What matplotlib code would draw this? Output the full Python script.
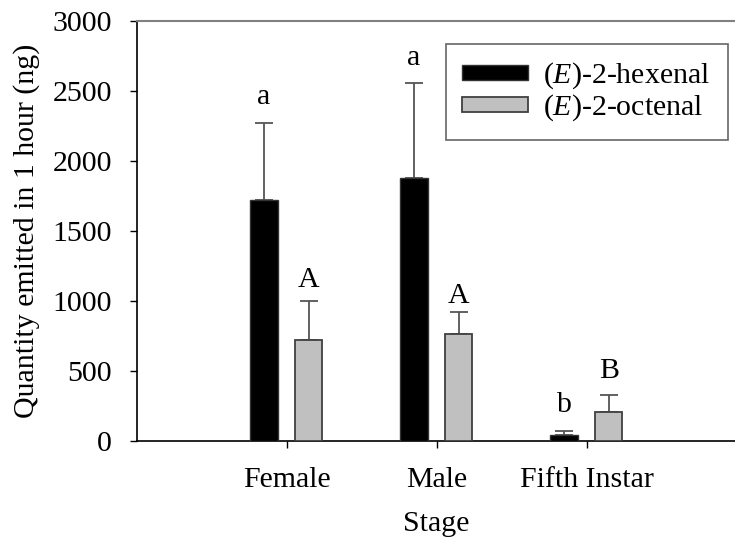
import numpy as np
import matplotlib
matplotlib.use("Agg")
import matplotlib.pyplot as plt

plt.rcParams['font.family'] = ['Liberation Serif', 'DejaVu Serif']
plt.rcParams['mathtext.fontset'] = 'custom'
plt.rcParams['mathtext.rm'] = 'Liberation Serif'
plt.rcParams['mathtext.it'] = 'Liberation Serif:italic'

categories = ["Female", "Male", "Fifth Instar"]
hexenal = [1725, 1880, 45]
hexenal_err = [550, 675, 30]
octenal = [722, 764, 207]
octenal_err = [278, 160, 124]
hexenal_letters = ["a", "a", "b"]
octenal_letters = ["A", "A", "B"]
hexenal_letter_y = [2407, 2686, 207]
octenal_letter_y = [1100, 986, 450]
series_names = ["($\\mathit{E}$)-2-hexenal", "($\\mathit{E}$)-2-octenal"]
yticks = [0, 500, 1000, 1500, 2000, 2500, 3000]

fig = plt.figure(figsize=(7.35, 5.48), dpi=100)
ax = fig.add_axes([137/735, 1-441/548, 1-137/735, (441-21)/548])

x = np.arange(len(categories))
w = 0.187
off_h = -0.153
off_o = 0.145
fs = 21.5

ax.bar(x + off_h, hexenal, width=w, color='black', edgecolor='#333333', linewidth=1.0,
       label=series_names[0], zorder=3)
ax.bar(x + off_o, octenal, width=w*0.97, color='#c0c0c0', edgecolor='#404040', linewidth=1.3,
       label=series_names[1], zorder=3)
ax.errorbar(x + off_h, hexenal, yerr=[np.zeros(3), hexenal_err], fmt='none',
            ecolor='#555555', elinewidth=1.3, capsize=6.5, capthick=1.3, zorder=2)
ax.errorbar(x + off_o, octenal, yerr=[np.zeros(3), octenal_err], fmt='none',
            ecolor='#555555', elinewidth=1.3, capsize=6.5, capthick=1.3, zorder=2)

for i in range(3):
    ax.text(x[i] + off_h, hexenal_letter_y[i], hexenal_letters[i], ha='center',
            va='baseline', fontsize=fs)
    ax.text(x[i] + off_o, octenal_letter_y[i], octenal_letters[i], ha='center',
            va='baseline', fontsize=fs)

ax.set_xlim(-1.0, 2.987)
ax.set_ylim(0, 3000)
ax.set_xticks(x)
ax.set_xticklabels(categories, fontsize=fs)
ax.set_yticks(yticks)
ax.set_yticklabels([str(t) for t in yticks], fontsize=fs)
ax.tick_params(axis='both', direction='out', length=5, width=1.0, color='black')
ax.tick_params(axis='x', pad=14)
ax.tick_params(axis='y', pad=13)

ax.spines['right'].set_visible(False)
ax.spines['top'].set_color('#808080')
ax.spines['top'].set_linewidth(1.5)
ax.spines['left'].set_linewidth(1.2)
ax.spines['bottom'].set_linewidth(1.2)

ax.set_xlabel("Stage", fontsize=fs, labelpad=13)
ax.set_ylabel("Quantity emitted in 1 hour (ng)", fontsize=fs, labelpad=9)

leg = ax.legend(loc='upper left', bbox_to_anchor=(0.5167, 0.726, 0.471, 0.219),
                mode='expand', fontsize=fs, frameon=True, fancybox=False,
                handlelength=2.2, handleheight=0.4, labelspacing=0.05,
                handletextpad=0.5, borderpad=0.55, borderaxespad=0)
leg.get_frame().set_edgecolor('#404040')
leg.get_frame().set_linewidth(1.2)

fig.savefig("out.png", dpi=100)
